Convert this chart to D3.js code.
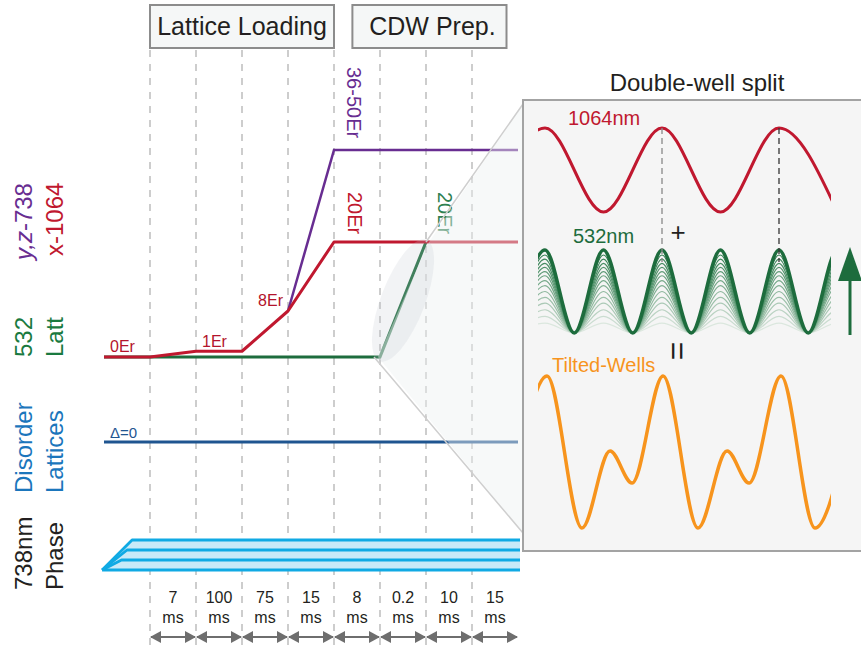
<!DOCTYPE html>
<html>
<head>
<meta charset="utf-8">
<script src="https://cdn.jsdelivr.net/npm/d3@7"></script>
<style>
  body { margin: 0; background: #fff; }
  svg text { font-family: "Liberation Sans", Arial, Helvetica, sans-serif; }
</style>
</head>
<body>
<div id="chart"></div>
<script>
/*global d3*/

// sequence: segment boundaries (step -1 is the lead-in before the first step)
var steps   = [-1, 0, 1, 2, 3, 4, 5, 6, 7, 8];
var x1064   = [0, 0, 1, 1, 8, 20, 20, 20, 20, 20];   // Er
var yz738   = [null, null, null, null, 8, 36, 36, 36, 36, 36];
var latt532 = [0, 0, 0, 0, 0, 0, 0, 20];
var disorder = [0, 0, 0, 0, 0, 0, 0, 0, 0, 0];
var durations = ["7", "100", "75", "15", "8", "0.2", "10", "15"];
var stages = ["Lattice Loading", "CDW Prep."];
var stageFrom = [0, 4.4];
var stageTo = [4, 7.75];
var rowLabels = [["y,z-738", "x-1064"], ["532", "Latt"], ["Disorder", "Lattices"], ["738nm", "Phase"]];
var erLabels = ["0Er", "1Er", "8Er"];
var phaseLevels = [0, 1, 2, 3];

// inset, positions in periods of the 1064nm lattice
var redU = [-1.5, -1, -0.5, 0, 0.5, 1, 1.5];
var redV = [-1, 1, -1, 1, -1, 1, -1];
var greenU = [-1.25, -1, -0.75, -0.5, -0.25, 0, 0.25, 0.5, 0.75, 1, 1.25, 1.5, 1.75];
var greenV = [0, 1, 0, 1, 0, 1, 0, 1, 0, 1, 0, 1, 0];
var greenDepth = [0.12, 0.2, 0.28, 0.36, 0.43, 0.5, 0.57, 0.63, 0.69, 0.74, 0.79, 0.84, 0.89, 0.94, 1];
var orangeU = [-1.256, -0.983, -0.684, -0.444, -0.256, 0.009, 0.308, 0.556, 0.744, 1.017, 1.308, 1.556];
var orangeV = [-0.408, 1, -1, 0.013, -0.408, 1, -1, 0.013, -0.408, 1, -1, 0.013];

var width = 861, height = 650;
var colors = {
  red: "#c0182f", purple: "#682d91", green: "#1d6c3d", blue: "#1f5590",
  blueText: "#1b76bc", orange: "#f7941d", cyan: "#10aae4", cyanFill: "#c9eaf8"
};

var svg = d3.select("#chart").append("svg")
  .attr("width", width)
  .attr("height", height);

var x = d3.scaleLinear().domain([0, 8]).range([150, 518]);
var yEr = d3.scaleLinear().domain([0, 36]).range([357, 150]);
var yDis = d3.scaleLinear().domain([0, 1]).range([442, 402]);
var yPh = d3.scaleLinear().domain([0, 3]).range([570, 540]);

// dashed step lines
svg.append("g").selectAll("line")
  .data(d3.range(0, 8))
  .enter().append("line")
  .attr("x1", function(d){ return x(d); })
  .attr("x2", function(d){ return x(d); })
  .attr("y1", 50).attr("y2", height)
  .style("stroke", "#bdbdbd")
  .style("stroke-width", 1.5)
  .style("stroke-dasharray", "7,7");

// stage boxes
var box = svg.append("g").selectAll("g")
  .data(stages)
  .enter().append("g");
box.append("rect")
  .attr("x", function(d, i){ return x(stageFrom[i]); })
  .attr("y", 5)
  .attr("width", function(d, i){ return x(stageTo[i]) - x(stageFrom[i]); })
  .attr("height", 43)
  .style("fill", "#f5f7f7")
  .style("stroke", "#8c8c8c")
  .style("stroke-width", 2);
box.append("text")
  .attr("x", function(d, i){ return (x(stageFrom[i]) + x(stageTo[i])) / 2 + (i ? 3 : 0); })
  .attr("y", 35)
  .attr("text-anchor", "middle")
  .style("font-size", "25px")
  .style("fill", "#231f20")
  .text(function(d){ return d; });

// phase band
var tip = [x(-1.04), yPh(0)];
var bend = [x(-1.04), x(-0.62), x(-0.5), x(-0.39)];
svg.append("path")
  .attr("d", "M" + tip + "L" + [bend[3], yPh(3)] + "L" + [x(8) + 2, yPh(3)] + "L" + [x(8) + 2, yPh(0)] + "Z")
  .style("fill", colors.cyanFill);
svg.append("g").selectAll("path")
  .data(phaseLevels)
  .enter().append("path")
  .attr("d", function(d){
    return "M" + tip + "L" + [bend[d], yPh(d)] + "L" + [x(8) + 2, yPh(d)];
  })
  .style("fill", "none")
  .style("stroke", colors.cyan)
  .style("stroke-width", 2.8)
  .style("stroke-linejoin", "round");

// lattice depth lines
var erLine = d3.line()
  .defined(function(d){ return d[1] !== null; })
  .x(function(d){ return x(d[0]); })
  .y(function(d){ return yEr(d[1]); });

function pairs(vals) {
  return vals.map(function(v, i){ return [steps[i], v]; });
}

svg.append("path")
  .datum(pairs(latt532))
  .attr("d", erLine)
  .style("fill", "none").style("stroke", colors.green).style("stroke-width", 3);
svg.append("path")
  .datum(pairs(yz738))
  .attr("d", erLine)
  .style("fill", "none").style("stroke", colors.purple).style("stroke-width", 2.5);
svg.append("path")
  .datum(pairs(disorder))
  .attr("d", d3.line().x(function(d){ return x(d[0]); }).y(function(d){ return yDis(d[1]); }))
  .style("fill", "none").style("stroke", colors.blue).style("stroke-width", 3);
svg.append("path")
  .datum(pairs(x1064))
  .attr("d", erLine)
  .style("fill", "none").style("stroke", colors.red).style("stroke-width", 3)
  .style("stroke-linejoin", "round");

// Er labels
var erPos = [[x(-1) + 6, yEr(x1064[0]) - 5, "start"],
             [x(1) + 6, yEr(x1064[2]) - 4, "start"],
             [x(3) - 5, yEr(x1064[4]) - 5, "end"]];
svg.append("g").selectAll("text")
  .data(erLabels)
  .enter().append("text")
  .attr("x", function(d, i){ return erPos[i][0]; })
  .attr("y", function(d, i){ return erPos[i][1]; })
  .attr("text-anchor", function(d, i){ return erPos[i][2]; })
  .style("font-size", "16px")
  .style("fill", "#b3142c")
  .text(function(d){ return d; });

svg.append("text")
  .attr("x", x(-1) + 6).attr("y", yDis(0) - 4)
  .style("font-size", "15px").style("fill", colors.blue)
  .text("\u0394=0");

// rotated plateau labels
var plateau = [["36-50Er", x(4) + 13, 67, colors.purple],
               ["20Er", x(4) + 14, 192, colors.red],
               ["20Er", x(6) + 12, 192, "#2f8051"]];
svg.append("g").selectAll("text")
  .data(plateau)
  .enter().append("text")
  .attr("transform", function(d){ return "translate(" + d[1] + "," + d[2] + ") rotate(90)"; })
  .style("font-size", "20px")
  .style("fill", function(d){ return d[3]; })
  .text(function(d){ return d[0]; });

// row labels on the left
var rowColors = [[colors.purple, colors.red], ["#1a7a3f", "#1a7a3f"],
                 [colors.blueText, colors.blueText], ["#231f20", "#231f20"]];
var rowBottom = [[260, 256], [357, 357], [493, 493], [590, 590]];
var colX = [32, 63];
rowLabels.forEach(function(pair, r){
  pair.forEach(function(t, c){
    var lbl = svg.append("text")
      .attr("transform", "translate(" + colX[c] + "," + rowBottom[r][c] + ") rotate(-90)")
      .style("font-size", "24px")
      .style("fill", rowColors[r][c]);
    if (r === 0 && c === 0) {
      // y,z are axis names: set them in italics
      var parts = t.split("-");
      lbl.append("tspan").style("font-style", "italic").text(parts[0]);
      lbl.append("tspan").text("-" + parts[1]);
    } else {
      lbl.text(t);
    }
  });
});

// durations and arrows
var defs = svg.append("defs");
defs.append("marker")
  .attr("id", "head")
  .attr("markerUnits", "userSpaceOnUse")
  .attr("markerWidth", 11).attr("markerHeight", 12)
  .attr("refX", 10).attr("refY", 6)
  .attr("orient", "auto-start-reverse")
  .append("path")
  .attr("d", "M0,0L11,6L0,12Z")
  .style("fill", "#6e6e6e");

var dur = svg.append("g").selectAll("g")
  .data(durations)
  .enter().append("g");
dur.append("text")
  .attr("x", function(d, i){ return (x(i) + x(i + 1)) / 2; })
  .attr("y", 603)
  .attr("text-anchor", "middle")
  .style("font-size", "16px").style("fill", "#231f20")
  .text(function(d){ return d; });
dur.append("text")
  .attr("x", function(d, i){ return (x(i) + x(i + 1)) / 2; })
  .attr("y", 623)
  .attr("text-anchor", "middle")
  .style("font-size", "16px").style("fill", "#231f20")
  .text("ms");
dur.append("line")
  .attr("x1", function(d, i){ return x(i) + 1; })
  .attr("x2", function(d, i){ return x(i + 1) - 1; })
  .attr("y1", 637).attr("y2", 637)
  .style("stroke", "#6e6e6e").style("stroke-width", 2)
  .attr("marker-start", "url(#head)")
  .attr("marker-end", "url(#head)");

// zoom wedge toward the inset
var rampTop = [x(6), yEr(20)], rampBot = [x(5) - 6, yEr(0)];
svg.append("path")
  .attr("d", "M523,104L" + [rampTop[0] + 3, rampTop[1]] + "L" + [rampBot[0] + 4, rampBot[1]] + "L523,533Z")
  .style("fill", "#eef1f1")
  .style("opacity", 0.45);
svg.append("path")
  .attr("d", "M523,104L" + rampTop + "M" + rampBot + "L523,533")
  .style("fill", "none")
  .style("stroke", "#cfcfcf")
  .style("stroke-width", 1.5);
svg.append("ellipse")
  .attr("transform", "translate(" + ((x(5) + x(6)) / 2) + "," + (yEr(10) + 1) + ") rotate(21)")
  .attr("rx", 22).attr("ry", 65)
  .style("fill", "#c5c9d0")
  .style("opacity", 0.22);

// inset panel
svg.append("text")
  .attr("x", 697).attr("y", 91)
  .attr("text-anchor", "middle")
  .style("font-size", "24px").style("fill", "#231f20")
  .text("Double-well split");
svg.append("rect")
  .attr("x", 523).attr("y", 100)
  .attr("width", 360).attr("height", 451)
  .style("fill", "#f5f5f5")
  .style("stroke", "#a3a3a3")
  .style("stroke-width", 2);

var ux = d3.scaleLinear().domain([0, 1]).range([662, 779]);
var yRed = d3.scaleLinear().domain([-1, 1]).range([212, 128]);
var yGreen = d3.scaleLinear().domain([0, 1]).range([333, 250]);
var yOr = d3.scaleLinear().domain([-1, 1]).range([528, 376]);

defs.append("clipPath").attr("id", "waveClip")
  .append("rect").attr("x", 538).attr("y", 100).attr("width", 293).attr("height", 451);

var inset = svg.append("g").attr("clip-path", "url(#waveClip)");

var wave = function(yScale) {
  return d3.line()
    .x(function(d){ return ux(d[0]); })
    .y(function(d){ return yScale(d[1]); })
    .curve(d3.curveMonotoneX);
};

// dashed markers at 1064 maxima
svg.append("g").selectAll("line")
  .data([0, 1])
  .enter().append("line")
  .attr("x1", function(d){ return ux(d); })
  .attr("x2", function(d){ return ux(d); })
  .attr("y1", yRed(1)).attr("y2", 262)
  .style("stroke", function(d){ return d ? "#333" : "#888"; })
  .style("stroke-width", 1.3)
  .style("stroke-dasharray", "6,4");

inset.append("path")
  .datum(redU.map(function(u, i){ return [u, redV[i]]; }))
  .attr("d", wave(yRed))
  .style("fill", "none").style("stroke", colors.red).style("stroke-width", 3);

var greenShade = d3.scaleLinear().domain([0.12, 1]).range(["#dbe7de", "#2a7a4a"]);
inset.append("g").selectAll("path")
  .data(greenDepth)
  .enter().append("path")
  .attr("d", function(k){
    return wave(yGreen)(greenU.map(function(u, i){ return [u, greenV[i] * k]; }));
  })
  .style("fill", "none")
  .style("stroke", function(k){ return k === 1 ? colors.green : greenShade(k); })
  .style("stroke-width", function(k){ return k === 1 ? 3.5 : 1.2; });

inset.append("path")
  .datum(orangeU.map(function(u, i){ return [u, orangeV[i]]; }))
  .attr("d", wave(yOr))
  .style("fill", "none").style("stroke", colors.orange).style("stroke-width", 3.5);

// inset labels
svg.append("text").attr("x", 568).attr("y", 125)
  .style("font-size", "20px").style("fill", colors.red).text("1064nm");
svg.append("text").attr("x", 573).attr("y", 243)
  .style("font-size", "20px").style("fill", colors.green).text("532nm");
svg.append("text").attr("x", 552).attr("y", 372)
  .style("font-size", "20px").style("fill", colors.orange).text("Tilted-Wells");
svg.append("text").attr("x", 678).attr("y", 241)
  .attr("text-anchor", "middle")
  .style("font-size", "26px").style("fill", "#231f20").text("+");
svg.append("text")
  .attr("transform", "translate(678,351) rotate(90)")
  .attr("text-anchor", "middle")
  .attr("dy", "0.35em")
  .style("font-size", "32px").style("fill", "#231f20").text("=");

// depth arrow
svg.append("line")
  .attr("x1", 850).attr("x2", 850)
  .attr("y1", yGreen(0) + 2).attr("y2", 270)
  .style("stroke", colors.green).style("stroke-width", 3);
svg.append("path")
  .attr("d", "M850," + (yGreen(1) - 3) + "L862,281L838,281Z")
  .style("fill", colors.green);
</script>
</body>
</html>
